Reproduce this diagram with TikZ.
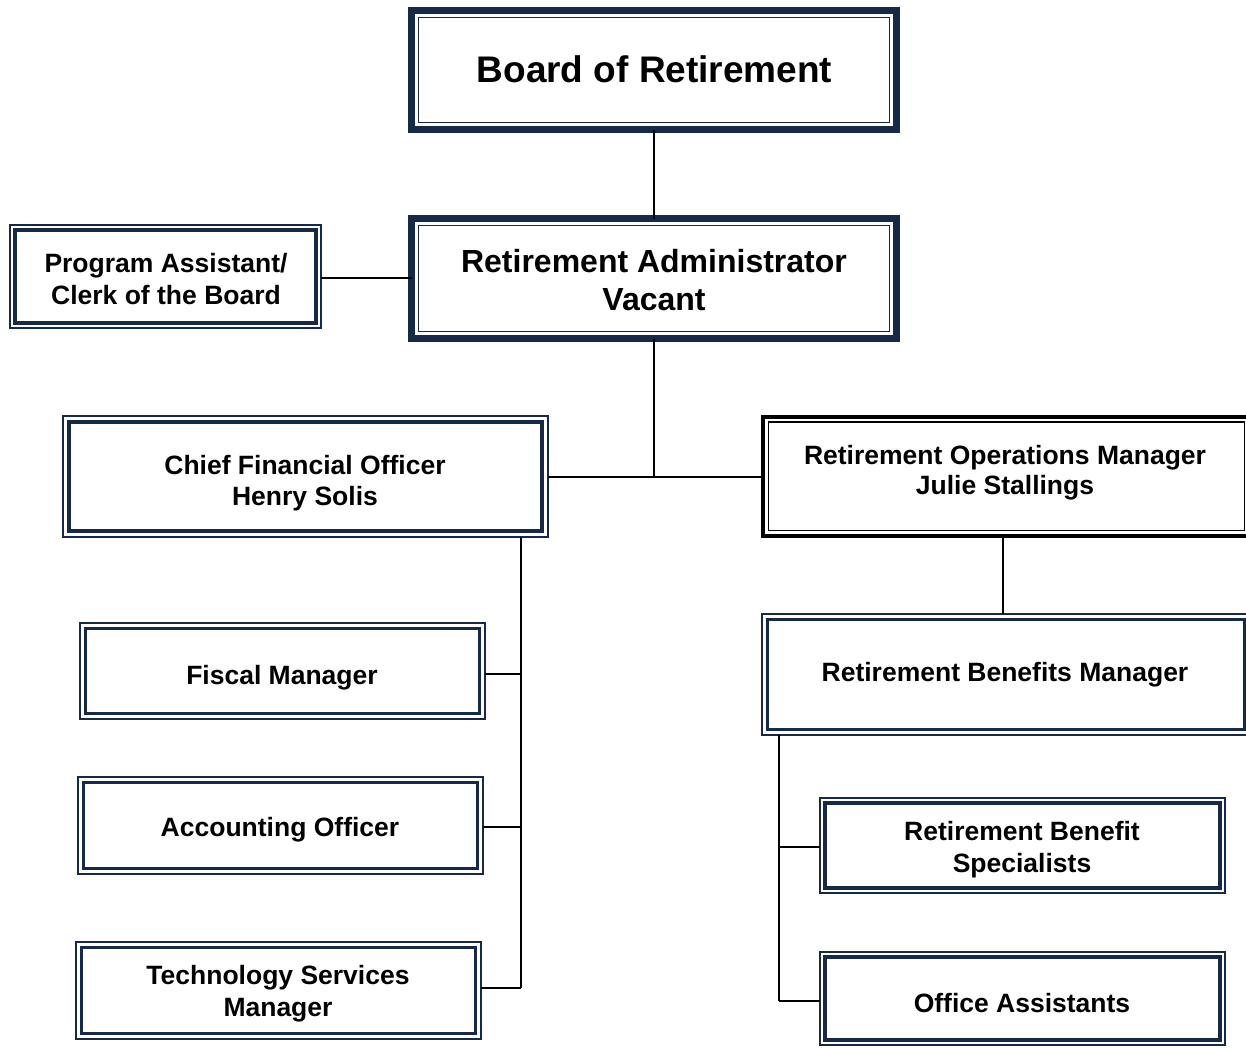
\documentclass[tikz,border=0pt]{standalone}
\usepackage{fontspec}
\setmainfont{Liberation Sans}
\definecolor{navy}{RGB}{22,42,72}
\newcommand\innerbox[3]{\draw[#3] ([shift={(#2,#2)}]#1.north west) rectangle ([shift={(-#2,-#2)}]#1.south east);}
\tikzset{
  box/.style={rectangle, inner sep=0pt, outer sep=0pt, draw=navy, line width=2pt},
  bigbox/.style={rectangle, inner sep=0pt, outer sep=0pt, draw=navy, line width=6.5pt},
  blackbox/.style={rectangle, inner sep=0pt, outer sep=0pt, draw=black, line width=4pt},
  inthick/.style={draw=navy, line width=3.2pt},
  inthin/.style={draw=navy, line width=1.8pt},
  inblack/.style={draw=black, line width=1.6pt},
  lbl/.style={font=\bfseries\fontsize{26.5}{31.5}\selectfont, align=center, inner sep=0pt},
  conn/.style={draw=black, line width=1.6pt}
}
\begin{document}
\begin{tikzpicture}[x=1pt,y=-1pt]
\useasboundingbox (0,0) rectangle (1246,1047);
% boxes
\node[bigbox, minimum width=485, minimum height=119] (board) at (654,70) {};
\node[bigbox, minimum width=485, minimum height=120] (admin) at (654,278.5) {};
\node[box, minimum width=311, minimum height=103] (prog) at (165.5,276.5) {};
\node[box, minimum width=485, minimum height=121] (cfo) at (305.5,476.5) {};
\node[blackbox, minimum width=487, minimum height=119.5] (ops) at (1006.5,476.25) {};
\node[box, minimum width=405, minimum height=96] (fiscal) at (282.5,671) {};
\node[box, minimum width=405, minimum height=97] (acct) at (280.5,825.5) {};
\node[box, minimum width=405, minimum height=97] (tech) at (278.5,990.5) {};
\node[box, minimum width=488, minimum height=121] (ben) at (1006,674.5) {};
\node[box, minimum width=405, minimum height=95] (spec) at (1022.5,845.5) {};
\node[box, minimum width=405, minimum height=93] (office) at (1022.5,998.5) {};
% inner lines
\innerbox{board}{7}{inthin}
\innerbox{admin}{7}{inthin}
\innerbox{prog}{5}{inthick}
\innerbox{cfo}{6}{inthick}
\innerbox{ops}{5.5}{inblack}
\innerbox{fiscal}{5.5}{inthick}
\innerbox{acct}{5.5}{inthick}
\innerbox{tech}{5.5}{inthick}
\innerbox{ben}{5.5}{inthick}
\innerbox{spec}{5}{inthick}
\innerbox{office}{5}{inthick}
% texts
\node[lbl, font=\bfseries\fontsize{37}{44}\selectfont] (boardT) at (654.5,69) {Board of Retirement};
\node[lbl, font=\bfseries\fontsize{32}{38}\selectfont] (adminT) at (654,280) {Retirement Administrator\\Vacant};
\node[lbl] (progT) at (166,279) {Program Assistant/\\Clerk of the Board};
\node[lbl] (cfoT) at (305,483) {Chief Financial Officer\\Henry Solis};
\node[lbl, font=\bfseries\fontsize{26.5}{30}\selectfont] (opsT) at (1005,473) {Retirement Operations Manager\\Julie Stallings};
\node[lbl] (fiscalT) at (282,678) {Fiscal Manager};
\node[lbl] (acctT) at (280,830) {Accounting Officer};
\node[lbl] (techT) at (278,993.5) {Technology Services\\Manager};
\node[lbl] (benT) at (1005,675) {Retirement Benefits Manager};
\node[lbl] (specT) at (1022,849.5) {Retirement Benefit\\Specialists};
\node[lbl] (officeT) at (1022,1003) {Office Assistants};
% connectors
\draw[conn] (board.south) -- (admin.north);
\draw[conn] (prog.east |- 0,278) -- (admin.west |- 0,278);
\draw[conn] (cfo.east |- 0,477) -- (ops.west |- 0,477);
\draw[conn] (admin.south) -- (admin.south |- 0,477);
\coordinate (cfoTop) at (521,537);
\coordinate (cfoBot) at (521,988);
\draw[conn] (cfoTop) -- (cfoBot);
\draw[conn] (fiscal.east |- 0,674) -- (cfoTop |- 0,674);
\draw[conn] (acct.east |- 0,827) -- (cfoTop |- 0,827);
\draw[conn] (tech.east |- cfoBot) -- (cfoBot);
\coordinate (opsDrop) at (1003,536);
\draw[conn] (opsDrop) -- (opsDrop |- ben.north);
\coordinate (benTop) at (779,735);
\coordinate (benBot) at (779,1001);
\draw[conn] (benTop) -- (benBot);
\draw[conn] (benTop |- 0,847) -- (spec.west |- 0,847);
\draw[conn] (benBot) -- (office.west |- benBot);
\end{tikzpicture}
\end{document}
